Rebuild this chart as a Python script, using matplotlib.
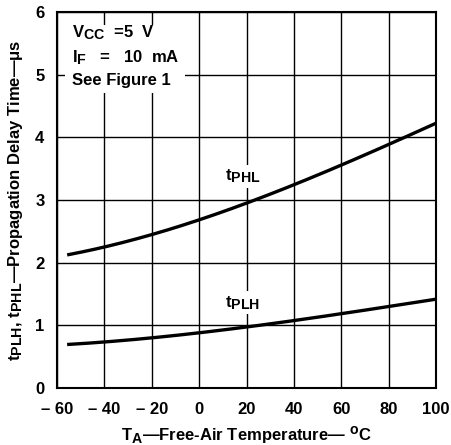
import numpy as np
import matplotlib
matplotlib.use("Agg")
import matplotlib.pyplot as plt
import matplotlib._mathtext as mtext
from matplotlib.patches import Rectangle

# subscripts in the reference are nearly full size
mtext.SHRINK_FACTOR = 0.85

# data
temp = [-55, -40, -20, 0, 20, 40, 60, 80, 100]
t_phl = [2.13, 2.25, 2.45, 2.68, 2.95, 3.25, 3.56, 3.88, 4.23]
t_plh = [0.70, 0.73, 0.80, 0.88, 0.98, 1.08, 1.18, 1.30, 1.42]

x_ticks = [-60, -40, -20, 0, 20, 40, 60, 80, 100]
x_ticklabels = ['\u2013 60', '\u2013 40', '\u2013 20', '0', '20', '40', '60', '80', '100']
y_ticks = [0, 1, 2, 3, 4, 5, 6]

plt.rcParams['font.family'] = ['Liberation Sans', 'DejaVu Sans']
plt.rcParams['font.weight'] = 'bold'
plt.rcParams['mathtext.fontset'] = 'custom'
plt.rcParams['mathtext.rm'] = 'Liberation Sans:bold'
plt.rcParams['mathtext.it'] = 'Liberation Sans:bold'
plt.rcParams['mathtext.bf'] = 'Liberation Sans:bold'
plt.rcParams['mathtext.default'] = 'regular'

fig = plt.figure(figsize=(4.52, 4.45), dpi=100)
ax = fig.add_axes([0.126, 0.128, 0.839, 0.845])

ax.set_xlim(-60, 100)
ax.set_ylim(0, 6)
ax.set_xticks(x_ticks)
ax.set_xticklabels(x_ticklabels)
ax.set_yticks(y_ticks)
ax.grid(True, color='black', lw=1.0)
ax.set_axisbelow(True)
ax.tick_params(axis='x', length=0, labelsize=12, pad=10)
ax.tick_params(axis='y', length=0, labelsize=12, pad=9)
for lbl in ax.get_xticklabels() + ax.get_yticklabels():
    lbl.set_fontweight('bold')
for sp in ax.spines.values():
    sp.set_linewidth(1.5)

xs = np.linspace(temp[0], temp[-1], 200)
ax.plot(xs, np.polyval(np.polyfit(temp, t_phl, 3), xs), color='black', lw=2.4, zorder=3)
ax.plot(xs, np.polyval(np.polyfit(temp, t_plh, 3), xs), color='black', lw=2.4, zorder=3)

bg = dict(facecolor='white', edgecolor='none', pad=2)
ax.text(18.5, 3.38, r'$t_{PHL}$', fontsize=12, ha='center', va='center',
        bbox=bg, zorder=4)
ax.text(18.5, 1.36, r'$t_{PLH}$', fontsize=12, ha='center', va='center',
        bbox=bg, zorder=4)

# condition box
ax.add_patch(Rectangle((-56.6, 4.70), 50.6, 1.09, facecolor='white',
                       edgecolor='none', zorder=1))
ax.text(-53.7, 5.60, r'$V_{CC}$  =5  V', fontsize=12, va='baseline', zorder=4)
ax.text(-53.7, 5.20, r'$I_F$   =   10  mA', fontsize=12, va='baseline', zorder=4)
ax.text(-53.7, 4.83, 'See Figure 1', fontsize=12, va='baseline', zorder=4)

ax.set_xlabel(r'$T_A$' '\u2014Free-Air Temperature\u2014 ' r'$^o$C',
              fontsize=12, fontweight='bold', labelpad=5)
ax.set_ylabel(r'$t_{PLH}$, $t_{PHL}$' '\u2014Propagation Delay Time\u2014' r'$\mu$s',
              fontsize=12, fontweight='bold', labelpad=7)

fig.savefig('out.png', dpi=100)
